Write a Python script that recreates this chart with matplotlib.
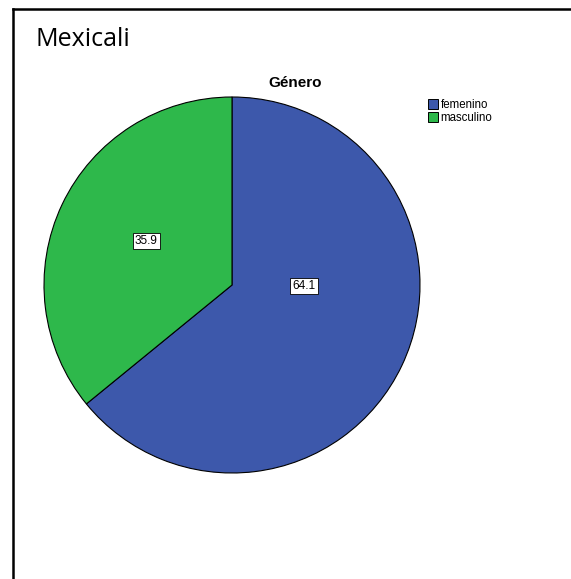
import matplotlib.pyplot as plt
from matplotlib.lines import Line2D
from matplotlib.patches import Patch

plt.rcParams['font.family'] = ['Liberation Sans', 'DejaVu Sans']

categorias = ['femenino', 'masculino']
porcentajes = [64.1, 35.9]
colores = ['#3d58ab', '#2eb84b']

fig = plt.figure(figsize=(5.71, 5.79), dpi=100)

# marco
fig.add_artist(Line2D([13/571, 13/571], [0, 1 - 9/579], color='black', lw=1.8))
fig.add_artist(Line2D([13/571, 1], [1 - 9/579, 1 - 9/579], color='black', lw=1.8))

fig.text(35/571, 1 - 40/579, 'Mexicali', fontsize=18, va='center', ha='left',
         family=['Open Sans', 'DejaVu Sans'])

ax = fig.add_axes([44/571, 106/579, 376/571, 376/579])
ax.pie(porcentajes, colors=colores, startangle=90, counterclock=False,
       radius=1, wedgeprops=dict(edgecolor='black', linewidth=0.8))
ax.set_xlim(-1, 1)
ax.set_ylim(-1, 1)
ax.set_aspect('equal')
ax.axis('off')

# etiquetas de valor
posiciones = [(0.383, -0.005), (-0.457, 0.234)]
for (x, y), v in zip(posiciones, porcentajes):
    ax.text(x, y, f'{v:.1f}', ha='center', va='center', fontsize=8.5,
            bbox=dict(facecolor='white', edgecolor='black', linewidth=0.6, pad=1.5))

fig.text(295/571, 1 - 83/579, 'Género', fontsize=11, fontweight='bold',
         ha='center', va='center')

handles = [Patch(facecolor=c, edgecolor='black', linewidth=0.7) for c in colores]
fig.legend(handles, categorias, loc='upper left', bbox_to_anchor=(420/571, 1 - 91/579),
           frameon=False, fontsize=8.3, handlelength=0.9, handleheight=0.9,
           handletextpad=0.2, labelspacing=0.1, borderpad=0.2)

fig.savefig('out.png', dpi=100)
